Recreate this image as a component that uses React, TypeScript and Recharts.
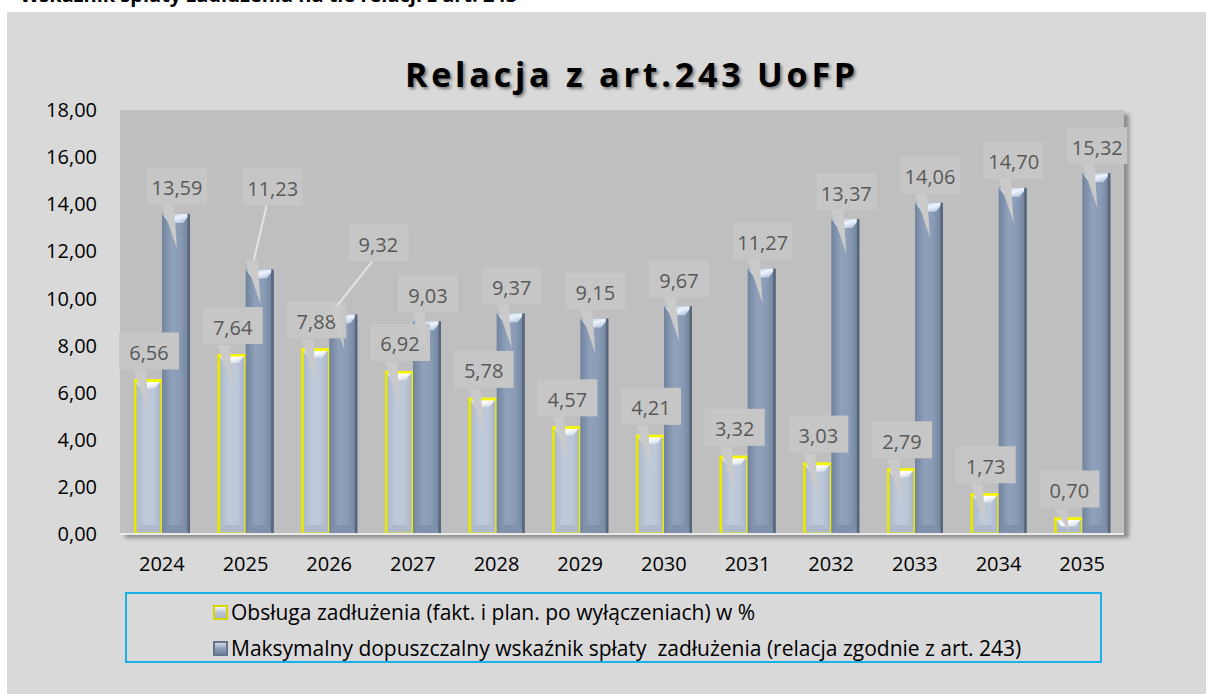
import React from 'react';
import { BarChart, Bar, XAxis, YAxis, LabelList } from 'recharts';

const categories = ['2024', '2025', '2026', '2027', '2028', '2029', '2030', '2031', '2032', '2033', '2034', '2035'];
const debtService = [6.56, 7.64, 7.88, 6.92, 5.78, 4.57, 4.21, 3.32, 3.03, 2.79, 1.73, 0.7];
const maxRatio = [13.59, 11.23, 9.32, 9.03, 9.37, 9.15, 9.67, 11.27, 13.37, 14.06, 14.7, 15.32];
const yTicks = [0, 2, 4, 6, 8, 10, 12, 14, 16, 18];
const seriesNames = [
  'Obsługa zadłużenia (fakt. i plan. po wyłączeniach) w %',
  'Maksymalny dopuszczalny wskaźnik spłaty  zadłużenia (relacja zgodnie z art. 243)',
];
const titleText = 'Relacja z art.243 UoFP';
const headerText = 'Wskaźnik spłaty zadłużenia na tle relacji z art. 243';

const data = categories.map((c, i) => ({ year: c, service: debtService[i], max: maxRatio[i] }));

const FONT = '"Open Sans", sans-serif';
const fmt = (v: number) => Number(v).toFixed(2).replace('.', ',');

// manual label offsets (dragged callouts in the original) : [dx, lift]
const darkLabelShift: Record<number, [number, number]> = { 1: [13, 81], 2: [35, 70] };

const LightBar = (p: any) => {
  const { x, y, width: w, height: h } = p;
  if (!h || h <= 0) return null;
  return (
    <g>
      <rect x={x} y={y} width={w} height={h} fill="url(#gLight)" />
      <polygon points={`${x},${y + h} ${x + w},${y + h} ${x + w - 7},${y + h - 9} ${x + 7},${y + h - 9}`} fill="#aeb9cb" />
      <polygon points={`${x},${y} ${x + w},${y} ${x + w - 7},${y + 9} ${x + 7},${y + 9}`} fill="url(#gLightTop)" />
      <rect x={x + 0.75} y={y + 0.75} width={w - 1.5} height={h - 1.5} fill="none" stroke="#eded00" strokeWidth={1.5} />
      <rect x={x} y={y} width={2.5} height={h} fill="#e8e800" />
      <rect x={x} y={y} width={w} height={2.5} fill="#f5f500" />
    </g>
  );
};

const DarkBar = (p: any) => {
  const { x, y, width: w, height: h } = p;
  if (!h || h <= 0) return null;
  return (
    <g>
      <rect x={x} y={y} width={w} height={h} fill="url(#gDark)" />
      <polygon points={`${x},${y + h} ${x + w},${y + h} ${x + w - 7},${y + h - 9} ${x + 7},${y + h - 9}`} fill="#7f91ab" />
      <polygon points={`${x},${y} ${x + w},${y} ${x + w - 7},${y + 9} ${x + 7},${y + 9}`} fill="url(#gDarkTop)" />
      <rect x={x + w - 2.5} y={y} width={2.5} height={h} fill="#58667c" />
    </g>
  );
};

const Callout = ({ barX, barW, top, base, value, dx, lift }: any) => {
  const barCx = barX + barW / 2;
  const cx = barCx + dx;
  const cy = top - lift;
  const bw = 60;
  const bh = 37;
  const bx = cx - 30;
  const by = cy - 20;
  const bb = by + bh;
  const tipY = Math.min(top + 35, base - 2);
  const baseY = top - 9;
  const tail = `${barCx - 14},${baseY} ${barCx - 2},${baseY} ${barCx + 1},${tipY}`;
  const detached = bb < baseY - 2;
  return (
    <g>
      {detached && (
        <line x1={cx - 6} y1={bb} x2={barCx - 6} y2={baseY} stroke="#e4e4e4" strokeWidth={2} />
      )}
      <polygon points={tail} fill="#cacaca" />
      <rect x={bx} y={by} width={bw} height={bh} fill="#c6c6c6" />
      <text x={cx} y={cy} textAnchor="middle" dominantBaseline="central" fill="#595959" fontSize={20} fontFamily={FONT}>
        {fmt(value)}
      </text>
    </g>
  );
};

// renders callouts for both series above all bars; the light bar's top is derived from the dark bar's own scale
const AllLabels = (props: any) => {
  const { x, y, width, height, value, index } = props;
  if (value == null || !height) return null;
  const base = y + height;
  const pxPerUnit = height / value;
  const lightVal = debtService[index];
  const lightTop = base - lightVal * pxPerUnit;
  const lightX = x - width;
  const [ddx, dlift] = darkLabelShift[index] ?? [1, 26];
  return (
    <g>
      <Callout barX={lightX} barW={width} top={lightTop} base={base} value={lightVal} dx={1} lift={27} />
      <Callout barX={x} barW={width} top={y} base={base} value={value} dx={ddx} lift={dlift} />
    </g>
  );
};

const LegendIcon = ({ kind }: { kind: 'light' | 'dark' }) => (
  <svg width={15} height={15} style={{ display: 'block' }}>
    <defs>
      <linearGradient id={`li-${kind}`} x1="0" y1="0" x2="0" y2="1">
        <stop offset="0" stopColor={kind === 'light' ? '#ffffff' : '#dfe7f3'} />
        <stop offset="0.5" stopColor={kind === 'light' ? '#b9c5d6' : '#8ea0b9'} />
        <stop offset="1" stopColor={kind === 'light' ? '#a7b3c5' : '#6c7d96'} />
      </linearGradient>
    </defs>
    <rect x={1} y={1} width={13} height={13} fill={`url(#li-${kind})`} stroke={kind === 'light' ? '#d6d600' : '#66758b'} strokeWidth={2} />
  </svg>
);

export default function App() {
  return (
    <div style={{ position: 'absolute', left: 0, top: 0, width: 1206, height: 694, overflow: 'hidden', background: '#ffffff', fontFamily: FONT }}>
      <div style={{ position: 'absolute', left: 20, top: -19, fontSize: 20, fontWeight: 700, color: '#000', whiteSpace: 'nowrap', fontFamily: FONT }}>
        {headerText}
      </div>
      <div style={{ position: 'absolute', left: 7, top: 12, width: 1199, height: 682, background: '#d9d9d9' }} />
      <div style={{ position: 'absolute', left: 120, top: 110, width: 1004, height: 424, background: '#bfbfbf', boxShadow: '5px 4px 4px rgba(0,0,0,0.35)' }} />
      <div style={{ position: 'absolute', left: 0, top: 51, width: 1264, textAlign: 'center', fontSize: 34, fontWeight: 700, letterSpacing: 3.8, color: '#000', textShadow: '2px 2px 3px rgba(0,0,0,0.45)', whiteSpace: 'nowrap' }}>
        {titleText}
      </div>
      <div style={{ position: 'absolute', left: 0, top: 0 }}>
        <BarChart width={1206} height={694} data={data} margin={{ top: 110, right: 82, bottom: 130, left: 20 }} barGap={0} barSize={28}>
          <defs>
            <linearGradient id="gLight" x1="0" y1="0" x2="1" y2="0">
              <stop offset="0" stopColor="#a9b5c8" />
              <stop offset="0.4" stopColor="#bfcadb" />
              <stop offset="0.7" stopColor="#bcc7d8" />
              <stop offset="1" stopColor="#a6b2c5" />
            </linearGradient>
            <linearGradient id="gDark" x1="0" y1="0" x2="1" y2="0">
              <stop offset="0" stopColor="#72839d" />
              <stop offset="0.35" stopColor="#90a2bb" />
              <stop offset="0.65" stopColor="#8a9cb5" />
              <stop offset="1" stopColor="#6e7f98" />
            </linearGradient>
            <linearGradient id="gLightTop" x1="0" y1="0" x2="1" y2="1">
              <stop offset="0" stopColor="#c9d1dd" />
              <stop offset="0.5" stopColor="#ffffff" />
              <stop offset="1" stopColor="#c3cddc" />
            </linearGradient>
            <linearGradient id="gDarkTop" x1="0" y1="0" x2="1" y2="1">
              <stop offset="0" stopColor="#a7b8cf" />
              <stop offset="0.5" stopColor="#eef4ff" />
              <stop offset="1" stopColor="#9fb2cd" />
            </linearGradient>
          </defs>
          <XAxis
            dataKey="year"
            height={30}
            tickSize={0}
            tickMargin={23}
            axisLine={{ stroke: '#e9e9e9', strokeWidth: 2 }}
            tick={{ fill: '#000', fontSize: 20, fontFamily: FONT }}
            interval={0}
          />
          <YAxis
            width={100}
            domain={[0, 18]}
            ticks={yTicks}
            interval={0}
            tickSize={0}
            tickMargin={23}
            axisLine={false}
            tickFormatter={fmt}
            tick={{ fill: '#000', fontSize: 20, fontFamily: FONT }}
          />
          <Bar dataKey="service" name={seriesNames[0]} shape={LightBar} isAnimationActive={false} />
          <Bar dataKey="max" name={seriesNames[1]} shape={DarkBar} isAnimationActive={false}>
            <LabelList dataKey="max" content={AllLabels} />
          </Bar>
        </BarChart>
      </div>
      <div style={{ position: 'absolute', left: 125, top: 592, width: 973, height: 67, border: '2px solid #1ab0e8', fontSize: 21, color: '#000' }}>
        {seriesNames.map((n, i) => (
          <div key={n} style={{ position: 'absolute', left: 86, top: i === 0 ? 4 : 40, display: 'flex', alignItems: 'center', whiteSpace: 'pre', lineHeight: '28px' }}>
            <LegendIcon kind={i === 0 ? 'light' : 'dark'} />
            <span style={{ marginLeft: 3 }}>{n}</span>
          </div>
        ))}
      </div>
    </div>
  );
}
